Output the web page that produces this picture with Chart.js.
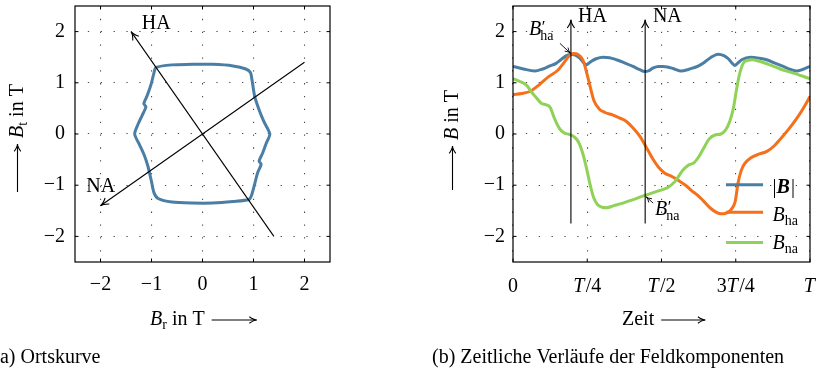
<!DOCTYPE html>
<html>
<head>
<meta charset="utf-8">
<script src="https://cdn.jsdelivr.net/npm/chart.js@4.4.1/dist/chart.umd.min.js"></script>
<style>
  html, body { margin: 0; padding: 0; background: #fff; }
  #wrap { position: relative; width: 817px; height: 375px; overflow: hidden; }
  canvas { position: absolute; left: 0; top: 0; }
</style>
</head>
<body>
<div id="wrap">
  <canvas id="ortsChart" width="817" height="375"></canvas>
  <canvas id="zeitChart" width="817" height="375"></canvas>
</div>
<script>
/* =====================================================
   Ortskurve + zeitliche Verläufe der Feldkomponenten
===================================================== */

// (a) Ortskurve: B_r / B_t in T
const ortsBr = [-0.2, 0.2, 0.6, 0.85, 0.94, 0.97, 1.02, 1.10, 1.20, 1.32, 1.25, 1.18, 1.11, 1.15, 1.08, 1.02, 0.96, 0.91,
                0.6, 0.2, -0.2, -0.6, -0.87, -0.95, -1.0, -1.07, -1.14, -1.23, -1.33, -1.26, -1.18, -1.11, -1.15, -1.08,
                -1.0, -0.95, -0.91, -0.6, -0.2];
const ortsBt = [1.36, 1.36, 1.33, 1.27, 1.20, 1.06, 0.75, 0.50, 0.25, 0.0, -0.18, -0.37, -0.53, -0.59, -0.76, -0.99, -1.20, -1.28,
                -1.32, -1.35, -1.35, -1.33, -1.26, -1.15, -0.93, -0.63, -0.42, -0.22, 0.0, 0.20, 0.37, 0.53, 0.59, 0.76,
                1.0, 1.20, 1.30, 1.35, 1.36];
const haBr = [1.4, -1.4], haBt = [-2, 2];
const naBr = [2, -2], naBt = [1.4, -1.4];
const ortsTicks = [-2, -1, 0, 1, 2];

// (b) zeitliche Verläufe, Zeit in Perioden T
const tBetrag = [0, 0.035, 0.073, 0.10, 0.124, 0.145, 0.163, 0.18, 0.194, 0.21, 0.225, 0.24, 0.247, 0.255, 0.264, 0.28, 0.303,
                 0.325, 0.348, 0.375, 0.404, 0.425, 0.444, 0.458, 0.472, 0.49, 0.506, 0.52, 0.539, 0.567, 0.59, 0.607,
                 0.625, 0.64, 0.665, 0.691, 0.71, 0.725, 0.74, 0.747, 0.756, 0.77, 0.80, 0.83, 0.854, 0.88, 0.91,
                 0.935, 0.955, 0.975, 1.0];
const bBetrag = [1.32, 1.27, 1.23, 1.27, 1.33, 1.38, 1.46, 1.53, 1.56, 1.54, 1.48, 1.38, 1.35, 1.38, 1.42, 1.47, 1.50,
                 1.49, 1.45, 1.39, 1.32, 1.26, 1.22, 1.24, 1.29, 1.32, 1.32, 1.31, 1.28, 1.23, 1.26, 1.29,
                 1.33, 1.38, 1.49, 1.56, 1.53, 1.47, 1.37, 1.34, 1.38, 1.45, 1.50, 1.48, 1.45, 1.39, 1.32,
                 1.26, 1.23, 1.26, 1.32];
const tHa = [0, 0.03, 0.06, 0.09, 0.12, 0.15, 0.17, 0.19, 0.205, 0.22, 0.235, 0.248, 0.26, 0.272, 0.29, 0.31, 0.337, 0.36,
             0.383, 0.405, 0.428, 0.445, 0.47, 0.49, 0.51, 0.535, 0.56, 0.585, 0.60, 0.62, 0.64, 0.665, 0.685, 0.70,
             0.72, 0.735, 0.748, 0.758, 0.768, 0.78, 0.80, 0.83, 0.855, 0.88, 0.90, 0.925, 0.95, 0.975, 1.0];
const bHa = [0.77, 0.79, 0.84, 0.97, 1.12, 1.24, 1.38, 1.53, 1.57, 1.55, 1.45, 1.20, 0.92, 0.66, 0.49, 0.42, 0.37, 0.31,
             0.24, 0.11, -0.05, -0.22, -0.48, -0.65, -0.76, -0.83, -0.92, -1.02, -1.10, -1.19, -1.30, -1.45, -1.53, -1.56,
             -1.54, -1.47, -1.32, -0.95, -0.72, -0.58, -0.47, -0.39, -0.34, -0.23, -0.10, 0.07, 0.26, 0.48, 0.73];
const tNa = [0, 0.025, 0.046, 0.065, 0.08, 0.095, 0.112, 0.125, 0.14, 0.155, 0.17, 0.19, 0.205, 0.22, 0.235, 0.248, 0.26,
             0.272, 0.285, 0.30, 0.315, 0.34, 0.37, 0.40, 0.444, 0.47, 0.495, 0.52, 0.545, 0.57, 0.59, 0.61, 0.625,
             0.64, 0.66, 0.68, 0.70, 0.715, 0.73, 0.742, 0.752, 0.762, 0.775, 0.79, 0.805, 0.83, 0.86, 0.90, 0.95, 1.0];
const bNa = [1.08, 1.02, 0.95, 0.80, 0.70, 0.60, 0.57, 0.52, 0.30, 0.12, 0.03, -0.01, -0.05, -0.15, -0.38, -0.68, -1.00,
             -1.25, -1.38, -1.43, -1.44, -1.40, -1.35, -1.29, -1.20, -1.15, -1.10, -1.05, -0.93, -0.72, -0.61, -0.56, -0.45,
             -0.30, -0.10, -0.02, 0.0, 0.07, 0.25, 0.50, 0.85, 1.15, 1.38, 1.44, 1.45, 1.42, 1.36, 1.27, 1.18, 1.08];
const haZeit = [0.195, 0.195], naZeit = [0.445, 0.445], achsWert = [-1.75, 2.23];
const legendZeit = [0.717, 0.842];
const legendWert = [-0.99, -1.53, -2.12];
const zeitTicksX = [0, 0.25, 0.5, 0.75, 1];
const zeitTickLabels = ['0', 'T/4', 'T/2', '3T/4', 'T'];
const zeitTicksY = [-2, -1, 0, 1, 2];

const BLAU = '#4a7ea5', ORANGE = '#f4701a', GRUEN = '#8fd257';
const SERIF = '"Liberation Serif", "Times New Roman", Times, serif';
const F = (size, style) => ((style || '') + ' ' + size + 'px ' + SERIF).trim();

Chart.defaults.font.family = SERIF;
Chart.defaults.font.size = 20;
Chart.defaults.color = '#000';

const pts = (xs, ys) => xs.map((v, i) => ({ x: v, y: ys[i] }));
const minus = v => v < 0 ? '\u2212' + Math.abs(v) : String(v);

// =========================
// Zeichen-Helfer
// =========================
function drawRuns(ctx, x, y, runs) {
    runs.forEach(r => {
        ctx.font = r.f;
        ctx.fillText(r.t, x, y + (r.dy || 0));
        x += ctx.measureText(r.t).width + (r.gap || 0);
    });
    return x;
}
function runsWidth(ctx, runs) {
    let w = 0;
    runs.forEach(r => { ctx.font = r.f; w += ctx.measureText(r.t).width + (r.gap || 0); });
    return w;
}
function arrowHead(ctx, x1, y1, x2, y2, len) {
    const a = Math.atan2(y2 - y1, x2 - x1);
    ctx.beginPath();
    ctx.moveTo(x2 - len * Math.cos(a - 0.42), y2 - len * Math.sin(a - 0.42));
    ctx.quadraticCurveTo(x2 - len * 0.35 * Math.cos(a), y2 - len * 0.35 * Math.sin(a), x2, y2);
    ctx.quadraticCurveTo(x2 - len * 0.35 * Math.cos(a), y2 - len * 0.35 * Math.sin(a),
        x2 - len * Math.cos(a + 0.42), y2 - len * Math.sin(a + 0.42));
    ctx.stroke();
}
function arrowLine(ctx, x1, y1, x2, y2, len) {
    ctx.beginPath(); ctx.moveTo(x1, y1); ctx.lineTo(x2, y2); ctx.stroke();
    arrowHead(ctx, x1, y1, x2, y2, len);
}
function frameAndTicks(chart, xTicks, yTicks) {
    const { ctx, chartArea: a, scales: { x, y } } = chart;
    ctx.strokeStyle = '#000';
    ctx.lineWidth = 1.2;
    ctx.strokeRect(a.left, a.top, a.right - a.left, a.bottom - a.top);
    ctx.lineWidth = 1;
    ctx.beginPath();
    xTicks.forEach(v => {
        const px = x.getPixelForValue(v);
        ctx.moveTo(px, a.bottom); ctx.lineTo(px, a.bottom - 3.5);
        ctx.moveTo(px, a.top); ctx.lineTo(px, a.top + 3.5);
    });
    yTicks.forEach(v => {
        const py = y.getPixelForValue(v);
        ctx.moveTo(a.left, py); ctx.lineTo(a.left + 3.5, py);
        ctx.moveTo(a.right, py); ctx.lineTo(a.right - 3.5, py);
    });
    ctx.stroke();
}
function primeLabel(ctx, x, y, sub) {
    ctx.font = F(20, 'italic');
    ctx.fillText('B', x, y);
    const w = ctx.measureText('B').width;
    ctx.font = F(17);
    ctx.fillText('\u2032', x + w + 0.5, y - 3);
    ctx.font = F(14);
    ctx.fillText(sub, x + w - 1, y + 5);
}

// gemeinsame Achsen-Optionen
function fixAxis(size) {
    return s => {
        if (s.isHorizontal()) s.height = size; else s.width = size;
        s.paddingTop = s.paddingBottom = s.paddingLeft = s.paddingRight = 0;
    };
}
const gridOpts = { color: '#4a4a4a', lineWidth: 1.1, drawTicks: false };
const borderOpts = { display: false, dash: [1.3, 11.55] };

// =========================
// (a) Ortskurve
// =========================
const ortsOverlay = {
    id: 'ortsOverlay',
    afterDatasetsDraw(chart) {
        const { ctx, scales: { x, y } } = chart;
        ctx.save();
        frameAndTicks(chart, ortsTicks, ortsTicks);
        ctx.strokeStyle = '#000';
        ctx.lineWidth = 1.1;
        arrowHead(ctx, x.getPixelForValue(haBr[0]), y.getPixelForValue(haBt[0]),
            x.getPixelForValue(haBr[1]), y.getPixelForValue(haBt[1]), 9);
        arrowHead(ctx, x.getPixelForValue(naBr[0]), y.getPixelForValue(naBt[0]),
            x.getPixelForValue(naBr[1]), y.getPixelForValue(naBt[1]), 9);
        ctx.fillStyle = '#000';
        ctx.textAlign = 'left';
        ctx.textBaseline = 'alphabetic';
        ctx.font = F(20);
        ctx.fillText('HA', x.getPixelForValue(-1.19), y.getPixelForValue(2.06));
        ctx.fillText('NA', x.getPixelForValue(-2.28), y.getPixelForValue(-1.13));
        ctx.restore();
    },
    afterDraw(chart) {
        const ctx = chart.ctx;
        ctx.save();
        ctx.fillStyle = '#000';
        ctx.strokeStyle = '#000';
        ctx.lineWidth = 1.1;
        ctx.textAlign = 'left';
        ctx.textBaseline = 'alphabetic';
        // x-Titel
        let xe = drawRuns(ctx, 150, 325, [
            { t: 'B', f: F(20, 'italic') }, { t: 'r', f: F(14), dy: 4 }, { t: ' in T', f: F(20) }]);
        arrowLine(ctx, xe + 7, 320, xe + 52, 320, 8);
        // y-Titel (gedreht)
        ctx.save();
        ctx.translate(23, 192);
        ctx.rotate(-Math.PI / 2);
        arrowLine(ctx, 0, -5.5, 48, -5.5, 8);
        drawRuns(ctx, 54, 0, [
            { t: 'B', f: F(20, 'italic') }, { t: 't', f: F(14), dy: 4 }, { t: ' in T', f: F(20) }]);
        ctx.restore();
        // Unterschrift
        ctx.font = F(20);
        ctx.fillText('(a) Ortskurve', -6.7, 363);
        ctx.restore();
    }
};

new Chart(document.getElementById('ortsChart'), {
    type: 'scatter',
    data: {
        datasets: [
            { data: pts(haBr, haBt), showLine: true, borderColor: '#000', borderWidth: 1.1, pointRadius: 0 },
            { data: pts(naBr, naBt), showLine: true, borderColor: '#000', borderWidth: 1.1, pointRadius: 0 },
            { data: pts(ortsBr, ortsBt), showLine: true, borderColor: BLAU, borderWidth: 3, pointRadius: 0,
              tension: 0.25, borderJoinStyle: 'round' }
        ]
    },
    options: {
        responsive: false,
        animation: false,
        events: [],
        layout: { padding: { left: 35, right: 487, top: 6, bottom: 83 } },
        plugins: { legend: { display: false }, tooltip: { enabled: false } },
        scales: {
            x: {
                type: 'linear', min: -2.5, max: 2.5,
                afterBuildTicks: s => { s.ticks = ortsTicks.map(v => ({ value: v })); },
                afterFit: fixAxis(30),
                ticks: { callback: minus, padding: 11, maxRotation: 0, font: { size: 20 } },
                grid: gridOpts, border: borderOpts
            },
            y: {
                type: 'linear', min: -2.5, max: 2.5,
                afterBuildTicks: s => { s.ticks = ortsTicks.map(v => ({ value: v })); },
                afterFit: fixAxis(40),
                ticks: { callback: minus, padding: 10, font: { size: 20 } },
                grid: gridOpts, border: borderOpts
            }
        }
    },
    plugins: [ortsOverlay]
});

// =========================
// (b) Zeitliche Verläufe
// =========================
const zeitOverlay = {
    id: 'zeitOverlay',
    afterDatasetsDraw(chart) {
        const { ctx, chartArea: a, scales: { x, y } } = chart;
        ctx.save();
        frameAndTicks(chart, zeitTicksX, zeitTicksY);
        ctx.strokeStyle = '#000';
        ctx.fillStyle = '#000';
        ctx.lineWidth = 1.1;
        // Pfeilspitzen HA / NA
        [haZeit, naZeit].forEach(tz => {
            arrowHead(ctx, x.getPixelForValue(tz[0]), y.getPixelForValue(achsWert[0]),
                x.getPixelForValue(tz[1]), y.getPixelForValue(achsWert[1]), 9);
        });
        ctx.textAlign = 'left';
        ctx.textBaseline = 'alphabetic';
        ctx.font = F(20);
        ctx.fillText('HA', x.getPixelForValue(0.219), y.getPixelForValue(2.18));
        ctx.fillText('NA', x.getPixelForValue(0.471), y.getPixelForValue(2.18));
        // B'_ha und B'_na
        primeLabel(ctx, x.getPixelForValue(0.054), y.getPixelForValue(1.94), 'ha');
        ctx.lineWidth = 0.9;
        arrowLine(ctx, x.getPixelForValue(0.158), y.getPixelForValue(1.77),
            x.getPixelForValue(0.193), y.getPixelForValue(1.58), 6);
        primeLabel(ctx, x.getPixelForValue(0.478), y.getPixelForValue(-1.59), 'na');
        arrowLine(ctx, x.getPixelForValue(0.472), y.getPixelForValue(-1.35),
            x.getPixelForValue(0.449), y.getPixelForValue(-1.23), 6);
        // Legende
        const lx = x.getPixelForValue(0.874);
        drawRuns(ctx, lx, y.getPixelForValue(-1.15), [
            { t: '|', f: F(20) }, { t: 'B', f: F(20, 'bold italic'), gap: 1 }, { t: '|', f: F(20) }]);
        drawRuns(ctx, lx, y.getPixelForValue(-1.70), [
            { t: 'B', f: F(20, 'italic') }, { t: 'ha', f: F(14), dy: 4 }]);
        drawRuns(ctx, lx, y.getPixelForValue(-2.25), [
            { t: 'B', f: F(20, 'italic') }, { t: 'na', f: F(14), dy: 4 }]);
        // x-Ticklabels mit kursivem T
        zeitTicksX.forEach((v, i) => {
            const runs = [];
            zeitTickLabels[i].split('').forEach(c => {
                if (c === 'T') runs.push({ t: c, f: F(20, 'italic'), gap: 1.5 });
                else runs.push({ t: c, f: F(20) });
            });
            const w = runsWidth(ctx, runs);
            drawRuns(ctx, x.getPixelForValue(v) - w / 2, a.bottom + 30, runs);
        });
        ctx.restore();
    },
    afterDraw(chart) {
        const ctx = chart.ctx;
        ctx.save();
        ctx.fillStyle = '#000';
        ctx.strokeStyle = '#000';
        ctx.lineWidth = 1.1;
        ctx.textAlign = 'left';
        ctx.textBaseline = 'alphabetic';
        const xe = drawRuns(ctx, 622, 325, [{ t: 'Zeit', f: F(20) }]);
        arrowLine(ctx, xe + 7, 320, xe + 51, 320, 8);
        ctx.save();
        ctx.translate(458, 190);
        ctx.rotate(-Math.PI / 2);
        arrowLine(ctx, 0, -5.5, 44, -5.5, 8);
        drawRuns(ctx, 50, 0, [{ t: 'B', f: F(20, 'italic') }, { t: ' in T', f: F(20) }]);
        ctx.restore();
        ctx.font = F(20);
        ctx.fillText('(b) Zeitliche Verläufe der Feldkomponenten', 432, 363);
        ctx.restore();
    }
};

const kurve = (data, color) => ({
    data, borderColor: color, borderWidth: 3, pointRadius: 0, fill: false,
    cubicInterpolationMode: 'monotone', borderJoinStyle: 'round'
});
const gerade = (data, color, w) => ({ data, borderColor: color, borderWidth: w, pointRadius: 0, fill: false });

new Chart(document.getElementById('zeitChart'), {
    type: 'line',
    data: {
        datasets: [
            gerade(pts(legendZeit, legendZeit.map(() => legendWert[0])), BLAU, 3),
            gerade(pts(legendZeit, legendZeit.map(() => legendWert[1])), ORANGE, 3),
            gerade(pts(legendZeit, legendZeit.map(() => legendWert[2])), GRUEN, 3),
            gerade(pts(haZeit, achsWert), '#000', 1.1),
            gerade(pts(naZeit, achsWert), '#000', 1.1),
            kurve(pts(tNa, bNa), GRUEN),
            kurve(pts(tHa, bHa), ORANGE),
            kurve(pts(tBetrag, bBetrag), BLAU)
        ]
    },
    options: {
        responsive: false,
        animation: false,
        events: [],
        layout: { padding: { left: 473, right: 7, top: 6, bottom: 83 } },
        plugins: { legend: { display: false }, tooltip: { enabled: false } },
        scales: {
            x: {
                type: 'linear', min: 0, max: 1,
                afterBuildTicks: s => { s.ticks = zeitTicksX.map(v => ({ value: v })); },
                afterFit: fixAxis(30),
                ticks: { display: false },
                grid: gridOpts, border: borderOpts
            },
            y: {
                type: 'linear', min: -2.5, max: 2.5,
                afterBuildTicks: s => { s.ticks = zeitTicksY.map(v => ({ value: v })); },
                afterFit: fixAxis(40),
                ticks: { callback: minus, padding: 8, font: { size: 20 } },
                grid: gridOpts, border: borderOpts
            }
        }
    },
    plugins: [zeitOverlay]
});
</script>
</body>
</html>
